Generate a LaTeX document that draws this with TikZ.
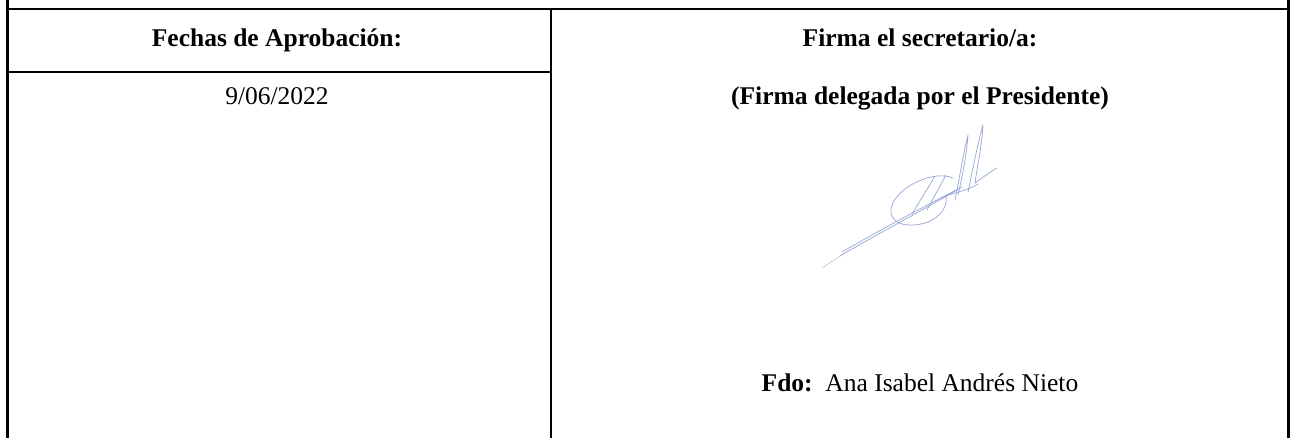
\documentclass[tikz,border=0pt]{standalone}
\usepackage{fontspec}
\setmainfont{Liberation Serif}
\definecolor{ink}{RGB}{150,166,214}
\begin{document}
\begin{tikzpicture}[x=1pt,y=-1pt,
  rule/.style={line width=2.2pt,black},
  txt/.style={inner sep=0pt,anchor=base,font=\fontsize{25.5}{30}\selectfont},
  sig/.style={draw=ink,line width=0.7pt,line cap=round,line join=round}]
\useasboundingbox[fill=white] (0,0) rectangle (1296,438);
% grid coordinates
\coordinate (tl) at (7.5,9);
\coordinate (tr) at (1288.5,9);
\coordinate (lt) at (7.5,0);
\coordinate (lb) at (7.5,438);
\coordinate (rt) at (1288.5,0);
\coordinate (rb) at (1288.5,438);
\coordinate (mt) at (551,9);
\coordinate (mb) at (551,438);
\coordinate (hl) at (7.5,72);
\coordinate (hr) at (551,72);
% rules
\draw[rule] (tl) -- (tr);
\draw[rule] (lt) -- (lb);
\draw[rule] (rt) -- (rb);
\draw[rule] (mt) -- (mb);
\draw[rule] (hl) -- (hr);
% texts
\node[txt] (h1) at (277,46.5) {\textbf{Fechas de Aprobación:}};
\node[txt] (d1) at (277,105) {9/06/2022};
\node[txt] (h2) at (920,46.5) {\textbf{Firma el secretario/a:}};
\node[txt] (h3) at (920,105) {\textbf{(Firma delegada por el Presidente)}};
\node[txt] (fdo) at (920,391) {\textbf{Fdo:}\ \ Ana Isabel Andrés Nieto};
% signature
\draw[sig,line width=0.4pt] (822,268) -- (840,256);
\draw[sig] (840,256) .. controls (870,238) and (920,212) .. (962,187)
           .. controls (925,206) and (880,230) .. (842,252);
\draw[sig] (953,178) .. controls (935,170) and (900,185) .. (892,205)
           .. controls (886,222) and (905,230) .. (928,222)
           .. controls (942,216) and (948,205) .. (946,196);
\draw[sig] (935,176) -- (912,214);
\draw[sig] (946,175) -- (927,210);
\draw[sig] (955,200) .. controls (960,175) and (964,150) .. (968,135)
           .. controls (967,152) and (962,178) .. (958,195);
\draw[sig] (968,192) .. controls (973,168) and (978,142) .. (983,125)
           .. controls (982,145) and (977,168) .. (975,183)
           .. controls (982,178) and (990,172) .. (997,168);
\draw[sig] (945,196) .. controls (958,192) and (968,190) .. (978,184);
\end{tikzpicture}
\end{document}
